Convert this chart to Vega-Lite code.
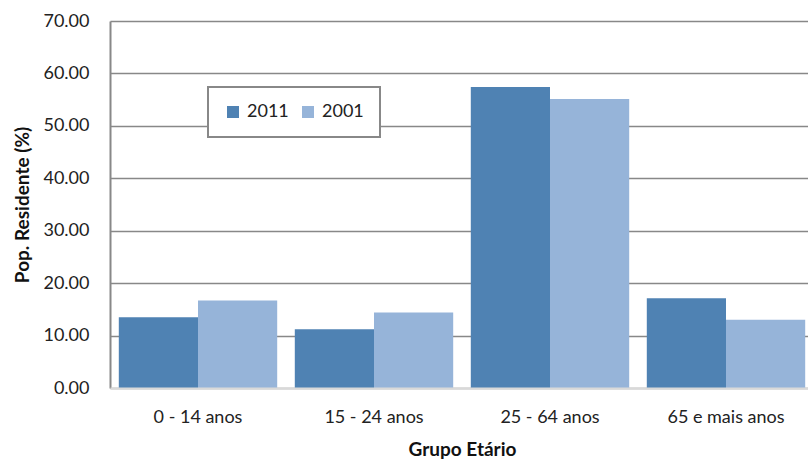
{
  "$schema": "https://vega.github.io/schema/vega-lite/v6.json",
  "width": 704,
  "height": 367,
  "autosize": {"type": "none"},
  "padding": {"left": 110, "top": 21, "right": 0, "bottom": 72},
  "background": "white",
  "config": {
    "font": "Lato",
    "view": {"stroke": null},
    "legend": {"strokeWidth": 2}
  },
  "data": {
    "values": [
      {"grupo": "0 - 14 anos", "ano": "2011", "valor": 13.5},
      {"grupo": "0 - 14 anos", "ano": "2001", "valor": 16.7},
      {"grupo": "15 - 24 anos", "ano": "2011", "valor": 11.2},
      {"grupo": "15 - 24 anos", "ano": "2001", "valor": 14.4},
      {"grupo": "25 - 64 anos", "ano": "2011", "valor": 57.4},
      {"grupo": "25 - 64 anos", "ano": "2001", "valor": 55.1},
      {"grupo": "65 e mais anos", "ano": "2011", "valor": 17.1},
      {"grupo": "65 e mais anos", "ano": "2001", "valor": 13.0}
    ]
  },
  "mark": {"type": "bar"},
  "encoding": {
    "x": {
      "field": "grupo",
      "type": "nominal",
      "sort": ["0 - 14 anos", "15 - 24 anos", "25 - 64 anos", "65 e mais anos"],
      "scale": {"paddingInner": 0.1, "paddingOuter": 0.05},
      "axis": {
        "title": "Grupo Etário",
        "labelAngle": 0,
        "labelFontSize": 18,
        "labelColor": "#222222",
        "labelPadding": 20,
        "ticks": false,
        "grid": false,
        "domainColor": "#d9d9d9",
        "domainWidth": 2,
        "zindex": 1,
        "titleFontSize": 19,
        "titleFontWeight": "bold",
        "titleColor": "#111111",
        "titleY": 61,
        "titleBaseline": "middle"
      }
    },
    "xOffset": {
      "field": "ano",
      "type": "nominal",
      "sort": ["2011", "2001"],
      "scale": {"paddingInner": 0, "paddingOuter": 0}
    },
    "y": {
      "field": "valor",
      "type": "quantitative",
      "scale": {"domain": [0, 70], "nice": false},
      "axis": {
        "title": "Pop. Residente (%)",
        "values": [0, 10, 20, 30, 40, 50, 60, 70],
        "format": ".2f",
        "labelFontSize": 18,
        "labelColor": "#222222",
        "labelPadding": 21,
        "ticks": false,
        "grid": true,
        "gridColor": "#888888",
        "gridWidth": 1.5,
        "domainColor": "#888888",
        "domainWidth": 2,
        "titleFontSize": 19,
        "titleFontWeight": "bold",
        "titleColor": "#111111",
        "titleX": -88,
        "titleY": 183.5,
        "titleAlign": "center",
        "titleBaseline": "middle",
        "titleAngle": -90
      }
    },
    "color": {
      "field": "ano",
      "type": "nominal",
      "scale": {"domain": ["2011", "2001"], "range": ["#4f82b3", "#96b4d9"]},
      "legend": {
        "title": null,
        "orient": "none",
        "legendX": 98,
        "legendY": 66,
        "direction": "horizontal",
        "symbolType": "square",
        "symbolSize": 144,
        "symbolStrokeWidth": 0,
        "labelFontSize": 18,
        "labelColor": "#222222",
        "labelOffset": 5,
        "columnPadding": 10,
        "padding": 16,
        "strokeColor": "#888888",
        "fillColor": "white"
      }
    }
  }
}
